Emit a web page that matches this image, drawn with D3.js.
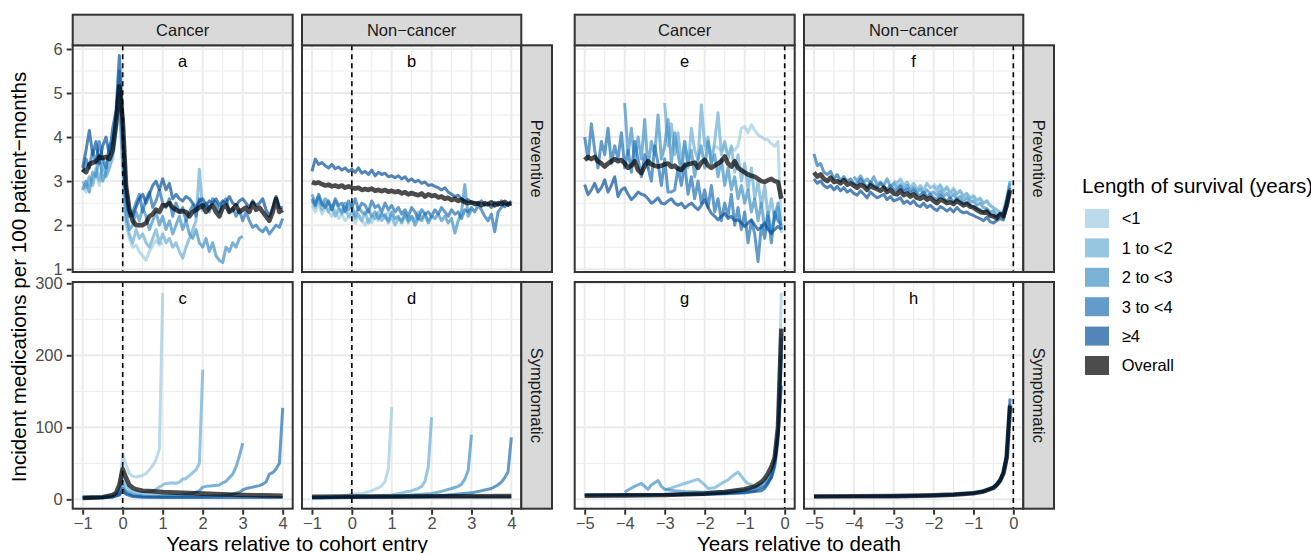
<!DOCTYPE html>
<html><head><meta charset="utf-8">
<script src="https://cdn.jsdelivr.net/npm/d3@7"></script>
<style>body{margin:0;background:#fff}</style>
</head><body>
<script>
// ---------------- DATA ----------------
const survivalGroups = ["<1", "1 to <2", "2 to <3", "3 to <4", "≥4", "Overall"];
const groupColors = ["#9ECAE1", "#6BAED6", "#4292C6", "#2171B5", "#08519C", "#000000"];
const columnLabels = ["Cancer", "Non\u2212cancer"];
const rowLabels = ["Preventive", "Symptomatic"];
const xTicksEntry = [-1, 0, 1, 2, 3, 4];
const xTicksDeath = [-5, -4, -3, -2, -1, 0];
const yTicksPreventive = [1, 2, 3, 4, 5, 6];
const yTicksSymptomatic = [0, 100, 200, 300];
const panelLetters = ["a", "b", "c", "d", "e", "f", "g", "h"];
const xTitleEntry = "Years relative to cohort entry";
const xTitleDeath = "Years relative to death";
const yTitle = "Incident medications per 100 patient\u2212months";
const legendTitle = "Length of survival (years)";

// monthly series start month (relative to cohort entry / death)
const entryStartMonth = [-12, -12, -12, -12, -12, -12];
const deathStartMonth = [-24, -36, -48, -60, -60, -60];

// Panel a: Cancer, preventive, relative to cohort entry (monthly)
const a_lt1 = [2.9,2.75,3.1,2.95,3.2,2.9,3.4,3.1,3.3,3.5,4.1,4.7,3.2,
  2.0,1.7,1.5,1.55,1.4,1.3,1.2,1.4,1.55,1.65,1.55,1.6];
const a_1to2 = [3.0,2.85,3.1,2.9,3.3,3.0,3.4,3.1,3.3,3.6,4.2,4.8,3.4,
  2.1,1.8,1.6,1.9,1.7,1.8,1.6,1.5,1.7,1.9,1.6,1.8,
  1.6,1.7,1.5,1.6,1.4,1.25,1.5,1.7,1.9,2.1,3.27,2.3];
const a_2to3 = [2.8,3.0,2.75,3.2,3.1,3.6,3.0,3.2,3.7,3.8,4.4,5.0,3.6,
  2.3,1.9,2.0,2.3,2.1,2.4,2.2,1.9,2.1,2.3,2.0,2.2,
  1.9,2.1,1.8,2.0,2.2,1.9,2.1,1.8,1.7,1.9,1.6,1.5,
  1.7,1.4,1.6,1.3,1.2,1.15,1.5,1.4,1.6,1.5,1.7,1.75];
const a_3to4 = [3.2,3.5,3.3,3.7,3.4,3.9,3.5,3.3,3.8,3.9,4.5,5.5,4.0,
  2.6,2.2,2.3,2.5,2.7,2.3,2.6,2.75,2.4,2.55,2.8,2.5,
  2.4,2.6,2.2,2.5,2.3,2.4,2.1,2.3,2.45,2.2,2.6,2.4,
  2.5,2.3,2.6,2.5,2.3,2.5,2.6,2.3,2.4,2.2,2.35,2.1,
  2.3,2.1,1.95,2.0,1.9,1.85,1.95,1.8,1.9,2.0,1.95,2.15];
const a_ge4 = [3.3,3.7,4.15,3.6,3.9,3.4,3.8,4.0,3.6,4.2,4.6,5.85,4.4,
  2.9,2.3,2.2,2.4,2.6,2.7,2.5,2.7,2.9,3.0,2.8,3.05,
  2.8,2.95,2.6,2.7,2.6,2.55,2.65,2.6,2.5,2.4,2.55,2.6,
  2.45,2.55,2.5,2.6,2.45,2.55,2.5,2.65,2.5,2.45,2.55,2.6,
  2.5,2.4,2.55,2.45,2.5,2.6,2.35,2.2,2.4,2.65,2.4,2.4];
const a_all = [3.27,3.2,3.38,3.42,3.45,3.55,3.52,3.55,3.5,3.7,4.3,5.15,4.4,
  2.9,2.35,2.1,2.0,2.0,2.0,2.05,2.2,2.25,2.35,2.3,2.45,
  2.45,2.5,2.4,2.35,2.3,2.32,2.3,2.2,2.3,2.35,2.4,2.45,
  2.3,2.4,2.45,2.3,2.2,2.4,2.45,2.3,2.35,2.45,2.3,2.35,
  2.4,2.3,2.5,2.35,2.4,2.3,2.2,2.1,2.3,2.6,2.3,2.35];

// Panel b: Non-cancer, preventive, relative to cohort entry (monthly)
const b_lt1 = [2.45,2.3,2.5,2.25,2.4,2.3,2.2,2.35,2.15,2.25,2.1,2.2,2.15,
  2.05,2.2,2.1,2.0,2.15,2.05,2.2,2.1,2.25,2.15,2.3,2.2];
const b_1to2 = [2.55,2.4,2.6,2.35,2.5,2.3,2.45,2.2,2.35,2.25,2.4,2.2,2.3,
  2.15,2.25,2.1,2.3,2.05,2.2,2.15,2.3,2.1,2.25,2.05,2.2,
  2.0,2.15,2.1,2.25,2.05,2.2,2.1,2.3,2.15,2.25,2.1,2.2];
const b_2to3 = [2.7,2.5,2.65,2.45,2.6,2.5,2.35,2.55,2.4,2.3,2.5,2.35,2.45,
  2.2,2.4,2.3,2.25,2.35,2.2,2.3,2.15,2.25,2.2,2.1,2.3,
  2.15,2.2,2.05,2.25,2.1,2.2,2.0,2.15,2.1,2.25,2.05,2.2,
  2.15,2.25,2.1,2.2,2.05,2.15,1.82,2.1,2.3,2.92,2.2,2.35];
const b_3to4 = [2.6,2.45,2.7,2.5,2.4,2.55,2.35,2.6,2.45,2.5,2.3,2.55,2.4,
  2.6,2.35,2.5,2.45,2.3,2.55,2.4,2.45,2.3,2.5,2.35,2.45,
  2.3,2.4,2.25,2.35,2.2,2.4,2.3,2.15,2.35,2.25,2.3,2.2,
  2.35,2.25,2.4,2.3,2.2,2.35,2.25,2.3,2.15,2.35,2.3,2.4,
  2.3,2.45,2.35,2.2,2.1,2.25,1.85,2.3,2.4,2.5,2.45,2.55];
const b_ge4 = [3.22,3.5,3.38,3.42,3.35,3.3,3.38,3.28,3.32,3.25,3.3,3.22,3.27,
  3.2,3.3,3.18,3.22,3.15,3.25,3.12,3.2,3.15,3.18,3.1,3.12,
  3.08,3.12,3.05,3.1,3.0,3.05,2.98,3.02,2.95,2.98,2.9,2.92,
  2.88,2.85,2.8,2.85,2.75,2.7,2.65,2.68,2.6,2.55,2.58,2.5,
  2.52,2.48,2.55,2.45,2.5,2.4,2.52,2.45,2.55,2.42,2.5,2.48];
const b_all = [2.98,2.95,2.97,2.93,2.9,2.92,2.88,2.9,2.87,2.9,2.85,2.88,2.85,
  2.83,2.85,2.8,2.82,2.8,2.83,2.78,2.8,2.77,2.8,2.76,2.78,
  2.75,2.77,2.72,2.75,2.7,2.73,2.7,2.68,2.72,2.65,2.7,2.66,
  2.68,2.63,2.65,2.6,2.62,2.57,2.6,2.55,2.58,2.52,2.5,2.52,
  2.48,2.5,2.45,2.5,2.47,2.52,2.45,2.5,2.48,2.53,2.47,2.5];

// Panel c: Cancer, symptomatic, relative to cohort entry [years, rate]
const c_lt1 = [[-1,3],[-0.75,3.5],[-0.5,4],[-0.333,5],[-0.25,6],[-0.167,8],[-0.083,14],[0,63],[0.083,48],[0.167,36],[0.25,32],[0.333,31],[0.417,32],[0.5,33],[0.583,36],[0.667,41],[0.75,47],[0.833,55],[0.917,70],[1,287]];
const c_1to2 = [[-1,2.5],[-0.5,3.5],[-0.25,5],[-0.083,12],[0,30],[0.083,20],[0.167,14],[0.25,11],[0.5,9],[0.75,11],[0.833,14],[0.917,17],[1,20],[1.083,22],[1.25,23],[1.333,22],[1.417,24],[1.5,28],[1.583,29],[1.667,33],[1.75,37],[1.833,41],[1.917,50],[2,180]];
const c_2to3 = [[-1,2],[-0.5,3],[-0.25,4],[-0.083,9],[0,20],[0.083,12],[0.25,7],[0.5,5],[1,5],[1.5,6],[1.75,8],[1.917,12],[2,17],[2.083,18],[2.25,19],[2.417,20],[2.5,23],[2.583,25],[2.667,30],[2.75,35],[2.833,45],[2.917,60],[3,78]];
const c_3to4 = [[-1,2],[-0.5,2.5],[-0.25,3.5],[-0.083,7],[0,15],[0.083,9],[0.25,5],[0.5,4],[1,3.5],[1.5,3.5],[2,4],[2.5,5],[2.75,7],[2.917,10],[3,13],[3.083,15],[3.25,17],[3.417,19],[3.5,21],[3.583,24],[3.667,35],[3.75,37],[3.833,42],[3.917,50],[4,127]];
const c_ge4 = [[-1,2],[-0.5,2.5],[-0.25,3],[-0.083,6],[0,12],[0.083,7],[0.25,4],[0.5,3],[1,2.5],[2,2.5],[3,2.5],[4,2.5]];
const c_all = [[-1,2],[-0.5,3],[-0.25,6],[-0.167,9],[-0.083,20],[0,42],[0.083,30],[0.167,20],[0.25,16],[0.333,14],[0.5,12],[0.75,11],[1,10],[1.5,9],[2,8],[2.5,7],[3,6],[3.5,5.5],[4,5]];

// Panel d: Non-cancer, symptomatic, relative to cohort entry
const d_lt1 = [[-1,2],[-0.5,2.5],[0,7],[0.25,8],[0.5,12],[0.667,16],[0.75,19],[0.833,25],[0.917,43],[1,128]];
const d_1to2 = [[-1,2],[0,4],[1,6],[1.25,9],[1.5,12],[1.667,15],[1.75,18],[1.833,25],[1.917,45],[2,114]];
const d_2to3 = [[-1,2],[1,4],[2,8],[2.25,11],[2.5,15],[2.667,18],[2.75,21],[2.833,28],[2.917,40],[3,90]];
const d_3to4 = [[-1,2],[2,4],[3,9],[3.25,12],[3.5,15],[3.667,20],[3.75,24],[3.833,30],[3.917,38],[4,86]];
const d_ge4 = [[-1,3],[0,3.5],[1,3.5],[2,3.5],[3,3.5],[4,3.5]];
const d_all = [[-1,3.5],[0,4],[1,4],[2,4.2],[3,4.3],[4,4.5]];

// Panel e: Cancer, preventive, relative to death (monthly)
const e_lt1 = [3.7,3.85,3.6,3.8,3.75,3.7,3.85,3.6,3.75,3.7,3.8,4.2,
  4.24,4.1,4.28,4.15,4.05,4.0,3.95,3.94,3.85,3.79,3.9,1.82];
const e_1to2 = [4.77,3.8,4.3,3.6,4.1,3.4,3.9,3.3,4.2,3.7,3.5,4.73,
  3.8,4.0,3.4,3.9,4.55,3.6,3.9,3.5,3.8,3.2,3.6,3.0,
  3.4,2.8,3.3,2.6,3.0,2.4,2.9,2.2,2.6,2.1,2.4,1.9];
const e_2to3 = [4.77,3.6,4.2,3.4,4.0,3.5,4.4,3.3,3.9,3.6,4.5,3.5,
  3.8,4.4,3.4,4.1,3.6,3.2,3.9,3.4,3.7,3.1,3.5,3.8,
  3.3,3.9,3.4,3.6,3.1,3.5,2.9,3.3,2.8,3.1,2.6,2.9,
  2.5,2.8,2.3,2.6,2.1,2.5,1.9,2.3,1.8,2.2,2.5,1.9];
const e_3to4 = [4.0,3.5,4.3,3.7,3.3,3.9,3.6,4.2,3.4,3.8,3.5,4.1,
  3.3,3.7,3.2,3.9,3.5,3.1,3.6,3.3,3.0,3.8,3.4,2.9,
  3.5,2.75,2.75,2.8,3.3,2.9,3.4,2.7,3.1,2.6,3.0,2.5,
  2.8,2.4,2.9,2.3,2.6,2.1,2.5,2.2,2.7,2.0,2.4,1.9,
  2.3,1.6,2.1,1.8,1.17,2.0,1.7,2.2,1.6,2.3,2.1,2.0];
const e_ge4 = [2.92,2.69,2.8,2.95,2.75,2.85,3.03,2.75,2.9,3.1,2.65,2.8,
  2.85,2.7,2.58,2.65,2.75,2.7,2.68,2.6,2.5,2.55,2.62,2.5,
  2.48,2.55,2.6,2.5,2.45,2.5,2.39,2.45,2.5,2.42,2.35,2.45,
  2.58,2.4,2.27,2.2,2.12,2.2,2.27,2.15,2.2,2.1,2.12,2.05,
  1.97,2.05,2.12,2.0,1.9,1.95,2.05,1.9,1.82,1.9,1.97,1.9];
const e_all = [3.48,3.55,3.5,3.55,3.45,3.4,3.33,3.4,3.45,3.5,3.45,3.48,
  3.4,3.3,3.35,3.45,3.25,3.18,3.35,3.45,3.38,3.35,3.33,3.35,
  3.38,3.4,3.32,3.35,3.28,3.26,3.35,3.38,3.4,3.42,3.3,3.42,
  3.48,3.35,3.3,3.35,3.4,3.45,3.56,3.4,3.33,3.45,3.3,3.25,
  3.2,3.15,3.12,3.1,3.05,3.0,2.98,3.02,3.05,3.0,2.98,2.6];

// Panel f: Non-cancer, preventive, relative to death (monthly)
const f_lt1 = [2.95,2.85,2.92,2.8,2.88,2.75,2.85,2.72,2.78,2.65,2.72,2.62,
  2.68,2.58,2.62,2.5,2.55,2.45,2.38,2.3,2.25,2.35,2.6,3.0];
const f_1to2 = [3.0,2.95,3.05,2.9,2.98,2.85,2.95,2.82,2.9,2.8,2.95,2.85,
  2.88,2.78,2.9,2.75,2.85,2.72,2.8,2.7,2.78,2.65,2.72,2.6,
  2.65,2.55,2.6,2.5,2.55,2.45,2.4,2.35,2.3,2.25,2.5,3.0];
const f_2to3 = [3.1,3.0,3.12,2.98,3.05,2.95,3.1,2.92,2.98,2.9,3.05,2.88,
  2.95,2.85,2.92,2.8,2.9,2.78,2.85,2.75,2.82,2.7,2.8,2.72,
  2.75,2.68,2.78,2.65,2.72,2.62,2.7,2.6,2.65,2.55,2.62,2.52,
  2.55,2.45,2.5,2.4,2.38,2.3,2.32,2.2,2.25,2.28,2.6,2.95];
const f_3to4 = [3.62,3.35,3.4,3.2,3.15,3.22,3.05,3.15,3.0,3.1,3.0,3.05,
  2.95,2.92,3.05,2.95,2.85,2.98,2.9,2.85,2.95,2.88,2.8,2.9,
  2.82,2.78,2.88,2.75,2.82,2.72,2.8,2.7,2.68,2.75,2.65,2.7,
  2.62,2.58,2.68,2.6,2.55,2.62,2.52,2.6,2.55,2.48,2.52,2.45,
  2.42,2.38,2.35,2.3,2.35,2.25,2.22,2.18,2.25,2.2,2.5,2.85];
const f_ge4 = [3.05,2.95,3.0,2.9,2.85,2.9,2.8,2.88,2.78,2.85,2.75,2.8,
  2.72,2.68,2.78,2.7,2.62,2.75,2.68,2.62,2.66,2.7,2.58,2.65,
  2.55,2.58,2.62,2.5,2.55,2.48,2.55,2.45,2.42,2.5,2.4,2.45,
  2.38,2.33,2.42,2.38,2.32,2.38,2.3,2.4,2.32,2.28,2.3,2.25,
  2.22,2.18,2.15,2.1,2.18,2.08,2.05,2.1,2.15,2.12,2.4,2.75];
const f_all = [3.2,3.1,3.15,3.05,3.0,3.08,2.98,3.0,2.95,3.02,2.92,2.95,
  2.9,2.85,2.92,2.88,2.8,2.9,2.85,2.82,2.78,2.85,2.75,2.8,
  2.72,2.7,2.78,2.68,2.72,2.65,2.7,2.62,2.6,2.65,2.58,2.62,
  2.55,2.5,2.58,2.55,2.5,2.52,2.48,2.55,2.5,2.45,2.48,2.42,
  2.4,2.35,2.3,2.28,2.3,2.22,2.2,2.16,2.25,2.2,2.45,2.8];

// Panel g: Cancer, symptomatic, relative to death [years, rate]
const g_lt1 = [[-2,8],[-1.5,7],[-1,9],[-0.75,12],[-0.5,20],[-0.333,35],[-0.25,55],[-0.167,100],[-0.083,287]];
const g_1to2 = [[-3,13],[-2.833,16],[-2.667,19],[-2.5,22],[-2.333,25],[-2.167,28],[-2,20],[-1.917,15],[-1.75,16],[-1.583,22],[-1.417,27],[-1.25,35],[-1.167,38],[-1.083,32],[-1,26],[-0.917,22],[-0.75,18],[-0.583,17],[-0.5,19],[-0.333,30],[-0.25,48],[-0.167,90],[-0.083,230]];
const g_2to3 = [[-4,10],[-3.917,13],[-3.75,18],[-3.583,22],[-3.5,18],[-3.417,14],[-3.333,20],[-3.167,26],[-3.083,18],[-3,14],[-2.75,12],[-2.5,11],[-2,10],[-1.5,11],[-1,13],[-0.75,16],[-0.5,24],[-0.333,38],[-0.25,55],[-0.167,95],[-0.083,225]];
const g_3to4 = [[-5,6],[-4,6],[-3,6.5],[-2,7],[-1.5,8],[-1,10],[-0.75,12],[-0.5,18],[-0.333,30],[-0.25,45],[-0.167,80],[-0.083,200]];
const g_ge4 = [[-5,6],[-4,6],[-3,6.5],[-2,7],[-1,9],[-0.75,11],[-0.583,12],[-0.5,15],[-0.417,22],[-0.333,32],[-0.25,50],[-0.167,90],[-0.083,158]];
const g_all = [[-5,5],[-4,5.5],[-3,6],[-2,8],[-1.5,10],[-1,14],[-0.75,18],[-0.583,24],[-0.5,29],[-0.417,36],[-0.333,45],[-0.25,58],[-0.167,100],[-0.083,237]];

// Panel h: Non-cancer, symptomatic, relative to death
const h_lt1 = [[-2,5.6],[-1.5,6.7],[-1,8.7],[-0.75,11.2],[-0.5,16.3],[-0.417,20.8],[-0.333,27],[-0.25,37.5],[-0.167,60],[-0.083,125]];
const h_1to2 = [[-3,4.5],[-2,5.5],[-1.5,6.6],[-1,8.6],[-0.75,11],[-0.5,16],[-0.417,20.5],[-0.333,26.5],[-0.25,37],[-0.167,59],[-0.083,127]];
const h_2to3 = [[-4,4],[-3,4.4],[-2,5.4],[-1.5,6.4],[-1,8.4],[-0.75,10.8],[-0.5,15.8],[-0.417,20],[-0.333,26],[-0.25,36],[-0.167,57],[-0.083,128]];
const h_3to4 = [[-5,3.8],[-4,4.1],[-3,4.4],[-2,5.3],[-1.5,6.3],[-1,8.3],[-0.75,10.5],[-0.5,15.5],[-0.417,19.5],[-0.333,25],[-0.25,35],[-0.167,56],[-0.083,132]];
const h_ge4 = [[-5,4.2],[-4,4.4],[-3,4.8],[-2,5.8],[-1.5,6.8],[-1,9],[-0.75,11.5],[-0.5,17],[-0.417,21],[-0.333,27],[-0.25,38],[-0.167,62],[-0.083,140]];
const h_all = [[-5,4],[-4,4.2],[-3,4.5],[-2,5.5],[-1.5,6.5],[-1,8.5],[-0.75,11],[-0.5,16],[-0.417,20],[-0.333,26],[-0.25,36],[-0.167,58],[-0.083,130]];

// ---------------- DRAWING ----------------
const FONT = "'Liberation Sans', Arial, Helvetica, sans-serif";
const W = 1311, H = 553;
const svg = d3.select("body").append("svg")
  .attr("width", W).attr("height", H)
  .style("font-family", FONT);

const GRID = "#EBEBEB", BORDER = "#333333", STRIP = "#D9D9D9";
const SMALL = 16.5, LARGE = 20.6;

const leftCols = [[72.7, 292.7], [302, 521.3]];
const rightCols = [[574.7, 794.7], [804, 1023.3]];
const rowsY = [[45.3, 272], [282, 508.7]];
const stripTop = 14.7;
const stripW = 30.7;

const monthly = (vals, start) => vals.map((v, i) => [(start + i) / 12, v]);

const yDomains = [[0.936, 6.084], [-13, 301.8]];
const yMajors = [yTicksPreventive, yTicksSymptomatic];
const yMinors = [[1.5, 2.5, 3.5, 4.5, 5.5], [50, 150, 250]];

const groupsDef = [
  { cols: leftCols, xdom: [-1.25, 4.25], xticks: xTicksEntry, xminor: [-0.5, 0.5, 1.5, 2.5, 3.5],
    title: xTitleEntry, letterX: 1.5, yAxis: true,
    panels: [
      { c: 0, r: 0, letter: "a", series: [a_lt1, a_1to2, a_2to3, a_3to4, a_ge4, a_all].map((v, i) => monthly(v, entryStartMonth[i])) },
      { c: 1, r: 0, letter: "b", series: [b_lt1, b_1to2, b_2to3, b_3to4, b_ge4, b_all].map((v, i) => monthly(v, entryStartMonth[i])) },
      { c: 0, r: 1, letter: "c", series: [c_lt1, c_1to2, c_2to3, c_3to4, c_ge4, c_all] },
      { c: 1, r: 1, letter: "d", series: [d_lt1, d_1to2, d_2to3, d_3to4, d_ge4, d_all] }
    ] },
  { cols: rightCols, xdom: [-5.25, 0.25], xticks: xTicksDeath, xminor: [-4.5, -3.5, -2.5, -1.5, -0.5],
    title: xTitleDeath, letterX: -2.5, yAxis: false,
    panels: [
      { c: 0, r: 0, letter: "e", series: [e_lt1, e_1to2, e_2to3, e_3to4, e_ge4, e_all].map((v, i) => monthly(v, deathStartMonth[i])) },
      { c: 1, r: 0, letter: "f", series: [f_lt1, f_1to2, f_2to3, f_3to4, f_ge4, f_all].map((v, i) => monthly(v, deathStartMonth[i])) },
      { c: 0, r: 1, letter: "g", series: [g_lt1, g_1to2, g_2to3, g_3to4, g_ge4, g_all] },
      { c: 1, r: 1, letter: "h", series: [h_lt1, h_1to2, h_2to3, h_3to4, h_ge4, h_all] }
    ] }
];

const defs = svg.append("defs");
let clipId = 0;

const fmtTick = d => (d < 0 ? "\u2212" + Math.abs(d) : String(d));

groupsDef.forEach(G => {
  G.panels.forEach(P => {
    const [x0, x1] = G.cols[P.c];
    const [y0, y1] = rowsY[P.r];
    const xs = d3.scaleLinear().domain(G.xdom).range([x0, x1]);
    const ys = d3.scaleLinear().domain(yDomains[P.r]).range([y1, y0]);
    const g = svg.append("g");

    // background
    g.append("rect").attr("x", x0).attr("y", y0).attr("width", x1 - x0).attr("height", y1 - y0).attr("fill", "#fff");
    // minor grid
    g.selectAll(".vmin").data(G.xminor).join("line")
      .attr("x1", d => xs(d)).attr("x2", d => xs(d)).attr("y1", y0).attr("y2", y1)
      .attr("stroke", GRID).attr("stroke-width", 1);
    g.selectAll(".hmin").data(yMinors[P.r]).join("line")
      .attr("y1", d => ys(d)).attr("y2", d => ys(d)).attr("x1", x0).attr("x2", x1)
      .attr("stroke", GRID).attr("stroke-width", 1);
    // major grid
    g.selectAll(".vmaj").data(G.xticks).join("line")
      .attr("x1", d => xs(d)).attr("x2", d => xs(d)).attr("y1", y0).attr("y2", y1)
      .attr("stroke", GRID).attr("stroke-width", 2);
    g.selectAll(".hmaj").data(yMajors[P.r]).join("line")
      .attr("y1", d => ys(d)).attr("y2", d => ys(d)).attr("x1", x0).attr("x2", x1)
      .attr("stroke", GRID).attr("stroke-width", 2);

    // clip
    const id = "clip" + (clipId++);
    defs.append("clipPath").attr("id", id).append("rect")
      .attr("x", x0).attr("y", y0).attr("width", x1 - x0).attr("height", y1 - y0);
    const lg = g.append("g").attr("clip-path", `url(#${id})`);

    const line = d3.line().x(d => xs(d[0])).y(d => ys(d[1]));
    P.series.forEach((s, i) => {
      lg.append("path").datum(s).attr("d", line)
        .attr("fill", "none")
        .attr("stroke", groupColors[i])
        .attr("stroke-opacity", 0.7)
        .attr("stroke-width", i === 5 ? 4.6 : 3)
        .attr("stroke-linejoin", "round");
    });

    // dashed line at 0
    lg.append("line").attr("x1", xs(0)).attr("x2", xs(0)).attr("y1", y0).attr("y2", y1)
      .attr("stroke", "#000").attr("stroke-width", 1.6).attr("stroke-dasharray", "5,4");

    // panel letter
    g.append("text").attr("x", xs(G.letterX)).attr("y", y0 + 21.5)
      .attr("text-anchor", "middle").attr("font-size", SMALL).attr("fill", "#000")
      .text(P.letter);

    // border
    g.append("rect").attr("x", x0).attr("y", y0).attr("width", x1 - x0).attr("height", y1 - y0)
      .attr("fill", "none").attr("stroke", BORDER).attr("stroke-width", 2);

    // top strip
    if (P.r === 0) {
      g.append("rect").attr("x", x0).attr("y", stripTop).attr("width", x1 - x0).attr("height", y0 - stripTop)
        .attr("fill", STRIP).attr("stroke", BORDER).attr("stroke-width", 2);
      g.append("text").attr("x", (x0 + x1) / 2).attr("y", (stripTop + y0) / 2 + 0.36 * SMALL)
        .attr("text-anchor", "middle").attr("font-size", SMALL).attr("fill", "#1A1A1A")
        .text(columnLabels[P.c]);
    }
    // right strip
    if (P.c === 1) {
      g.append("rect").attr("x", x1).attr("y", y0).attr("width", stripW).attr("height", y1 - y0)
        .attr("fill", STRIP).attr("stroke", BORDER).attr("stroke-width", 2);
      g.append("text")
        .attr("transform", `translate(${x1 + stripW / 2},${(y0 + y1) / 2}) rotate(90)`)
        .attr("dy", "0.36em")
        .attr("text-anchor", "middle").attr("font-size", SMALL).attr("fill", "#1A1A1A")
        .text(rowLabels[P.r]);
    }

    // y axis (left group, first column)
    if (G.yAxis && P.c === 0) {
      const ax = g.append("g").attr("transform", `translate(${x0 - 1},0)`)
        .call(d3.axisLeft(ys).tickValues(yMajors[P.r]).tickSize(5).tickPadding(4).tickFormat(fmtTick));
      ax.select(".domain").remove();
      ax.selectAll(".tick line").attr("stroke", BORDER).attr("stroke-width", 2);
      ax.selectAll(".tick text").attr("fill", "#4D4D4D").attr("font-size", SMALL).attr("font-family", FONT);
    }
    // x axis (bottom row)
    if (P.r === 1) {
      const ax = g.append("g").attr("transform", `translate(0,${y1 + 1})`)
        .call(d3.axisBottom(xs).tickValues(G.xticks).tickSize(5).tickPadding(3).tickFormat(fmtTick));
      ax.select(".domain").remove();
      ax.selectAll(".tick line").attr("stroke", BORDER).attr("stroke-width", 2);
      ax.selectAll(".tick text").attr("fill", "#4D4D4D").attr("font-size", SMALL).attr("font-family", FONT);
    }
  });

  // x axis title
  const cx = (G.cols[0][0] + G.cols[1][1]) / 2;
  svg.append("text").attr("x", cx).attr("y", 551)
    .attr("text-anchor", "middle").attr("font-size", LARGE).attr("fill", "#000")
    .text(G.title);
});

// y axis title
svg.append("text")
  .attr("transform", `translate(26,${(rowsY[0][0] + rowsY[1][1]) / 2}) rotate(-90)`)
  .attr("text-anchor", "middle").attr("font-size", LARGE).attr("fill", "#000")
  .text(yTitle);

// legend
const leg = svg.append("g");
leg.append("text").attr("x", 1082).attr("y", 192.5)
  .attr("font-size", LARGE).attr("fill", "#000").text(legendTitle);
survivalGroups.forEach((lab, i) => {
  const top = 209 + i * 29.4;
  leg.append("rect").attr("x", 1085).attr("y", top).attr("width", 24).attr("height", 19)
    .attr("fill", groupColors[i]).attr("fill-opacity", 0.7);
  leg.append("text").attr("x", 1121.7).attr("y", top + 9.5 + 0.36 * SMALL)
    .attr("font-size", SMALL).attr("fill", "#000").text(lab);
});
</script>
</body></html>
